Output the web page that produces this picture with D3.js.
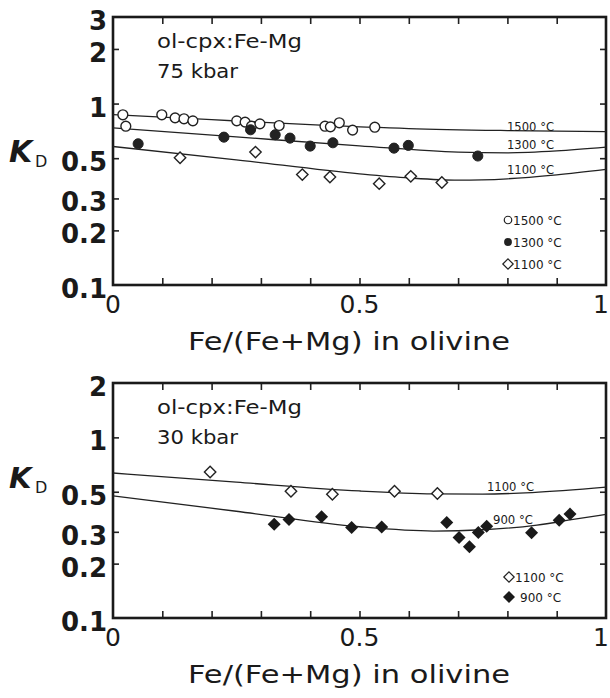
<!DOCTYPE html>
<html>
<head>
<meta charset="utf-8">
<script src="https://cdn.jsdelivr.net/npm/d3@7"></script>
<style>
  html, body { margin: 0; padding: 0; background: #fff; }
  svg { display: block; }
</style>
</head>
<body>
<svg id="chart" width="610" height="698"></svg>
<script>
// ── data ────────────────────────────────────────────────────
const xTickVals = [0, 0.1, 0.2, 0.3, 0.4, 0.5, 0.6, 0.7, 0.8, 0.9, 1];
const xLabelVals = [0, 0.5, 1];

// 75 kbar panel
const topYTicks = [3, 2, 1, 0.5, 0.3, 0.2, 0.1];
const top1500Pts = [[0.020, 0.867], [0.026, 0.75], [0.099, 0.867], [0.126, 0.834], [0.144, 0.824],
  [0.162, 0.803], [0.251, 0.803], [0.268, 0.79], [0.281, 0.75], [0.298, 0.773], [0.337, 0.757],
  [0.430, 0.75], [0.441, 0.744], [0.459, 0.783], [0.486, 0.714], [0.531, 0.741]];
const top1300Pts = [[0.051, 0.60], [0.225, 0.653], [0.279, 0.717], [0.329, 0.673], [0.359, 0.645],
  [0.400, 0.583], [0.446, 0.608], [0.570, 0.568], [0.599, 0.588], [0.740, 0.514]];
const top1100Pts = [[0.136, 0.503], [0.289, 0.54], [0.384, 0.406], [0.440, 0.394], [0.540, 0.362],
  [0.604, 0.397], [0.667, 0.367]];
const top1500Curve = [[0, 0.87], [0.2, 0.815], [0.4, 0.765], [0.6, 0.728], [0.8, 0.71], [1, 0.70]];
const top1300Curve = [[0, 0.735], [0.25, 0.655], [0.5, 0.585], [0.7, 0.54], [0.8, 0.535], [0.9, 0.548], [1, 0.575]];
const top1100Curve = [[0, 0.58], [0.25, 0.49], [0.5, 0.41], [0.6, 0.389], [0.7, 0.378], [0.8, 0.385], [0.9, 0.405], [1, 0.434]];

// 30 kbar panel
const botYTicks = [2, 1, 0.5, 0.3, 0.2, 0.1];
const bot1100Pts = [[0.197, 0.643], [0.361, 0.503], [0.445, 0.484], [0.571, 0.503], [0.658, 0.489]];
const bot900Pts = [[0.327, 0.33], [0.357, 0.351], [0.423, 0.363], [0.484, 0.317], [0.545, 0.319],
  [0.677, 0.338], [0.702, 0.279], [0.723, 0.248], [0.741, 0.297], [0.758, 0.322], [0.849, 0.296],
  [0.905, 0.348], [0.927, 0.376]];
const bot1100Curve = [[0, 0.635], [0.25, 0.565], [0.5, 0.505], [0.65, 0.487], [0.75, 0.485], [0.85, 0.495], [1, 0.53]];
const bot900Curve = [[0, 0.474], [0.25, 0.39], [0.5, 0.32], [0.65, 0.303], [0.75, 0.308], [0.86, 0.327], [0.93, 0.35], [1, 0.375]];

const xTitle = 'Fe/(Fe+Mg) in olivine';
const sysLabel = 'ol-cpx:Fe-Mg';

// ── drawing ─────────────────────────────────────────────────
const svg = d3.select('#chart');
const FONT = '"DejaVu Sans", sans-serif';
const L = 113, R = 606;

function diamondPath(r) {
  return `M0,${-r}L${r},0L0,${r}L${-r},0Z`;
}

function drawMarks(g, x, y, pts, kind) {
  const sel = g.append('g').selectAll('path').data(pts).join('path')
    .attr('transform', d => `translate(${x(d[0])},${y(d[1])})`);
  if (kind === 'circleOpen') sel.attr('d', d3.symbol(d3.symbolCircle, 76)()).attr('fill', '#fff').attr('stroke', '#222').attr('stroke-width', 1.4);
  if (kind === 'circleFilled') sel.attr('d', d3.symbol(d3.symbolCircle, 80)()).attr('fill', '#222').attr('stroke', '#222').attr('stroke-width', 1);
  if (kind === 'diamondOpen') sel.attr('d', diamondPath(5.7)).attr('fill', '#fff').attr('stroke', '#222').attr('stroke-width', 1.4);
  if (kind === 'diamondFilled') sel.attr('d', diamondPath(6.5)).attr('fill', '#1a1a1a');
}

function legendMark(g, cx, cy, kind) {
  const p = g.append('path').attr('transform', `translate(${cx},${cy})`);
  if (kind === 'circleOpen') p.attr('d', d3.symbol(d3.symbolCircle, 44)()).attr('fill', '#fff').attr('stroke', '#222').attr('stroke-width', 1.2);
  if (kind === 'circleFilled') p.attr('d', d3.symbol(d3.symbolCircle, 48)()).attr('fill', '#222');
  if (kind === 'diamondOpen') p.attr('d', diamondPath(5.2)).attr('fill', '#fff').attr('stroke', '#222').attr('stroke-width', 1.2);
  if (kind === 'diamondFilled') p.attr('d', diamondPath(6)).attr('fill', '#1a1a1a');
}

function drawPanel(cfg) {
  const x = d3.scaleLinear().domain([0, 1]).range([L, R]);
  const y = d3.scaleLog().domain(cfg.yDomain).range([cfg.bottom, cfg.top]);
  const g = svg.append('g');

  // clip for the curves
  const clipId = 'clip' + cfg.id;
  svg.append('defs').append('clipPath').attr('id', clipId)
    .append('rect').attr('x', L).attr('y', cfg.top).attr('width', R - L).attr('height', cfg.bottom - cfg.top);

  // ticks (inward, no labels)
  const inner = cfg.yTicks.filter(v => v !== cfg.yDomain[0] && v !== cfg.yDomain[1]);
  const xInner = xTickVals.filter(v => v > 0 && v < 1);
  g.append('g').attr('transform', `translate(0,${cfg.bottom})`)
    .call(d3.axisBottom(x).tickValues(xInner).tickSize(-7).tickFormat(''));
  g.append('g').attr('transform', `translate(0,${cfg.top})`)
    .call(d3.axisTop(x).tickValues(xInner).tickSize(-7).tickFormat(''));
  g.append('g').attr('transform', `translate(${L},0)`)
    .call(d3.axisLeft(y).tickValues(inner).tickSize(-6).tickFormat(''));
  g.append('g').attr('transform', `translate(${R},0)`)
    .call(d3.axisRight(y).tickValues(inner).tickSize(-6).tickFormat(''));
  g.selectAll('.domain').remove();
  g.selectAll('.tick line').attr('stroke', '#222').attr('stroke-width', 1.6);

  // frame
  g.append('rect').attr('x', L).attr('y', cfg.top).attr('width', R - L).attr('height', cfg.bottom - cfg.top)
    .attr('fill', 'none').attr('stroke', '#1a1a1a').attr('stroke-width', 2.6);

  // y tick labels
  g.append('g').selectAll('text').data(cfg.yTicks).join('text')
    .attr('x', 107).attr('y', d => y(d) + 4)
    .attr('dominant-baseline', 'central')
    .attr('text-anchor', 'end')
    .attr('font-family', FONT).attr('font-weight', 'bold').attr('font-size', 26)
    .attr('fill', '#1a1a1a')
    .text(d => String(d));

  // x tick labels ("1" nudged in so it stays on the page)
  g.append('g').selectAll('text').data(xLabelVals).join('text')
    .attr('x', d => Math.min(x(d), 601)).attr('y', cfg.bottom + 19)
    .attr('dominant-baseline', 'central')
    .attr('text-anchor', 'middle')
    .attr('font-family', FONT).attr('font-size', 25)
    .attr('fill', '#1a1a1a')
    .text(d => String(d));

  // x title
  g.append('text').attr('x', 188).attr('y', cfg.bottom + 65)
    .attr('font-family', FONT).attr('font-size', 25).attr('fill', '#1a1a1a')
    .attr('textLength', 322).attr('lengthAdjust', 'spacingAndGlyphs')
    .text(xTitle);

  // K_D
  g.append('text').attr('x', 9).attr('y', cfg.kY)
    .attr('font-family', FONT).attr('font-style', 'italic').attr('font-weight', 'bold')
    .attr('font-size', cfg.kSize).attr('fill', '#1a1a1a').text('K');
  g.append('text').attr('x', 35).attr('y', cfg.kY + 5)
    .attr('font-family', FONT).attr('font-size', 16).attr('fill', '#1a1a1a').text('D');

  // system + pressure
  g.append('text').attr('x', 157).attr('y', cfg.top + 31)
    .attr('font-family', FONT).attr('font-size', 19).attr('fill', '#1a1a1a')
    .attr('textLength', 145).attr('lengthAdjust', 'spacingAndGlyphs').text(sysLabel);
  g.append('text').attr('x', 157).attr('y', cfg.top + 61)
    .attr('font-family', FONT).attr('font-size', 19).attr('fill', '#1a1a1a')
    .attr('textLength', 81).attr('lengthAdjust', 'spacingAndGlyphs').text(cfg.pressure);

  // curves
  const line = d3.line().x(d => x(d[0])).y(d => y(d[1])).curve(d3.curveMonotoneX);
  const cg = g.append('g').attr('clip-path', `url(#${clipId})`);
  cfg.curves.forEach(c => {
    cg.append('path').attr('d', line(c.data)).attr('fill', 'none')
      .attr('stroke', '#222').attr('stroke-width', 1.3);
  });
  cfg.curves.forEach(c => {
    g.append('text').attr('x', c.lx).attr('y', c.ly)
      .attr('font-family', FONT).attr('font-size', 11.5).attr('fill', '#1a1a1a')
      .attr('textLength', c.label.length > 6 ? 47 : 40).attr('lengthAdjust', 'spacingAndGlyphs')
      .text(c.label);
  });

  // data points
  cfg.series.forEach(s => drawMarks(g, x, y, s.data, s.kind));

  // legend
  cfg.legend.forEach(l => {
    legendMark(g, l.mx, l.my, l.kind);
    g.append('text').attr('x', l.tx).attr('y', l.my + 4.5)
      .attr('font-family', FONT).attr('font-size', 12).attr('fill', '#1a1a1a').text(l.label);
  });
}

drawPanel({
  id: 'top', top: 17, bottom: 285, yDomain: [0.1, 3], yTicks: topYTicks,
  pressure: '75 kbar', kY: 162, kSize: 30,
  curves: [
    { data: top1500Curve, label: '1500 °C', lx: 507, ly: 131 },
    { data: top1300Curve, label: '1300 °C', lx: 507, ly: 149 },
    { data: top1100Curve, label: '1100 °C', lx: 507, ly: 174 }
  ],
  series: [
    { data: top1500Pts, kind: 'circleOpen' },
    { data: top1300Pts, kind: 'circleFilled' },
    { data: top1100Pts, kind: 'diamondOpen' }
  ],
  legend: [
    { kind: 'circleOpen', label: '1500 °C', mx: 508, my: 220, tx: 513 },
    { kind: 'circleFilled', label: '1300 °C', mx: 508, my: 242, tx: 513 },
    { kind: 'diamondOpen', label: '1100 °C', mx: 508, my: 264, tx: 513 }
  ]
});

drawPanel({
  id: 'bot', top: 383, bottom: 618, yDomain: [0.1, 2], yTicks: botYTicks,
  pressure: '30 kbar', kY: 488, kSize: 29,
  curves: [
    { data: bot1100Curve, label: '1100 °C', lx: 487, ly: 491 },
    { data: bot900Curve, label: '900 °C', lx: 493, ly: 524 }
  ],
  series: [
    { data: bot1100Pts, kind: 'diamondOpen' },
    { data: bot900Pts, kind: 'diamondFilled' }
  ],
  legend: [
    { kind: 'diamondOpen', label: '1100 °C', mx: 509, my: 577, tx: 515 },
    { kind: 'diamondFilled', label: '900 °C', mx: 509, my: 597, tx: 520 }
  ]
});
</script>
</body>
</html>
